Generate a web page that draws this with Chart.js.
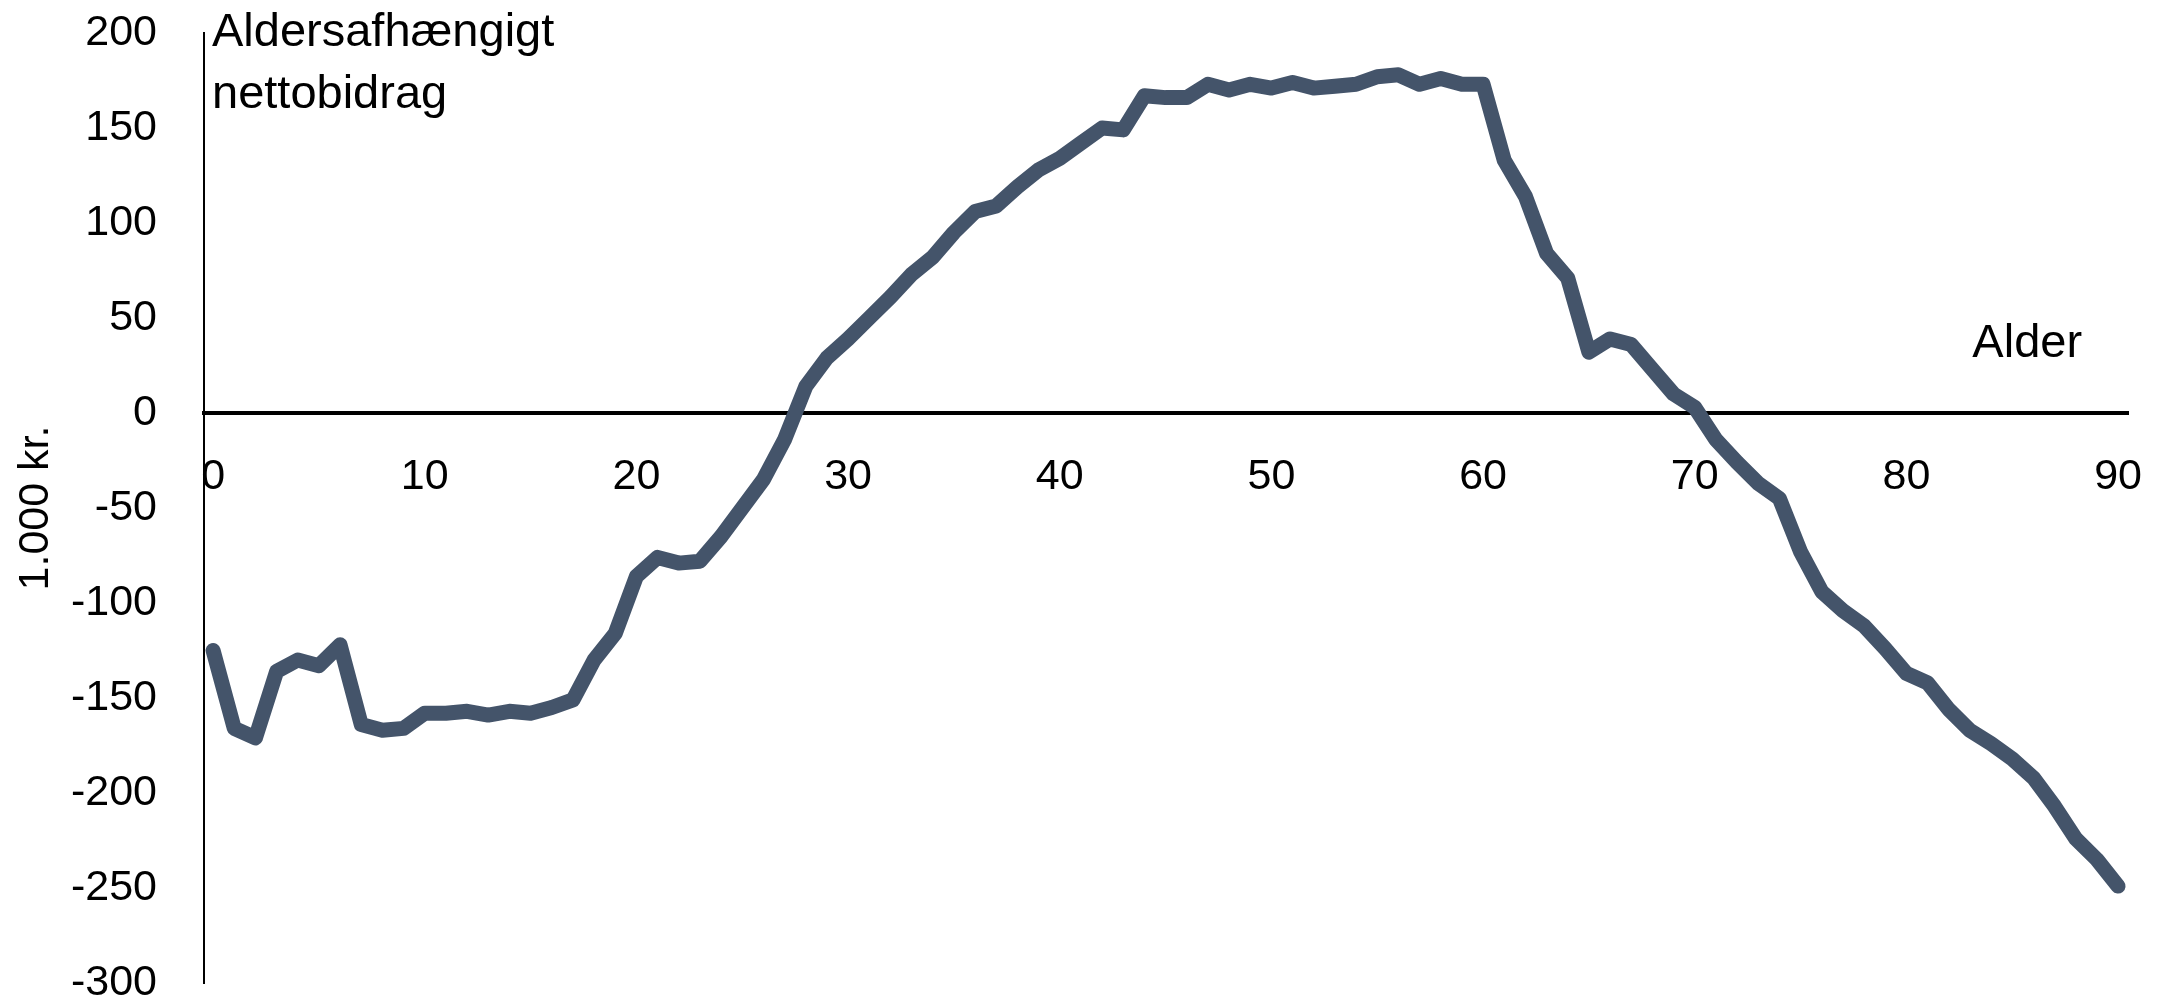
<!DOCTYPE html>
<html>
<head>
<meta charset="utf-8">
<script src="https://cdn.jsdelivr.net/npm/chart.js@4/dist/chart.umd.min.js"></script>
<style>
  html, body { margin: 0; padding: 0; background: #fff; }
  #wrap { width: 2172px; height: 1002px; }
</style>
</head>
<body>
<div id="wrap"><canvas id="chart" width="2172" height="1002"></canvas></div>
<script>
// Aldersafhængigt nettobidrag, 1.000 kr. per alder 0-90
const ages = [
  0, 1, 2, 3, 4, 5, 6, 7, 8, 9,
  10, 11, 12, 13, 14, 15, 16, 17, 18, 19,
  20, 21, 22, 23, 24, 25, 26, 27, 28, 29,
  30, 31, 32, 33, 34, 35, 36, 37, 38, 39,
  40, 41, 42, 43, 44, 45, 46, 47, 48, 49,
  50, 51, 52, 53, 54, 55, 56, 57, 58, 59,
  60, 61, 62, 63, 64, 65, 66, 67, 68, 69,
  70, 71, 72, 73, 74, 75, 76, 77, 78, 79,
  80, 81, 82, 83, 84, 85, 86, 87, 88, 89,
  90
];
const netContribution = [
  -125, -166, -171, -136, -130, -133, -122, -164, -167, -166,
  -158, -158, -157, -159, -157, -158, -155, -151, -130, -116,
  -86, -76, -79, -78, -65, -50, -35, -14, 14, 29,
  39, 50, 61, 73, 82, 95, 106, 109, 119, 128,
  134, 142, 150, 149, 167, 166, 166, 173, 170, 173,
  171, 174, 171, 172, 173, 177, 178, 173, 176, 173,
  173, 133, 114, 84, 71, 32, 39, 36, 23, 10,
  3, -14, -26, -37, -45, -73, -94, -104, -112, -124,
  -137, -142, -156, -167, -174, -182, -192, -207, -224, -235,
  -249
];
const xTicks = [0, 10, 20, 30, 40, 50, 60, 70, 80, 90];
const yTitle = '1.000 kr.';
const seriesLabel = ['Aldersafhængigt', 'nettobidrag'];
const xLabel = 'Alder';

const fontFamily = "'Liberation Sans', Arial, sans-serif";
const lineColor = '#44546A';

// tekster inde i plotområdet
const labelsPlugin = {
  id: 'labels',
  afterDraw(chart) {
    const { ctx, chartArea, scales } = chart;
    ctx.save();
    ctx.fillStyle = '#000';
    ctx.font = '47px ' + fontFamily;
    ctx.textBaseline = 'alphabetic';
    ctx.textAlign = 'left';
    ctx.fillText(seriesLabel[0], chartArea.left + 8, chartArea.top + 13);
    ctx.fillText(seriesLabel[1], chartArea.left + 8, chartArea.top + 75);
    ctx.textAlign = 'right';
    ctx.fillText(xLabel, scales.x.getPixelForValue(88.3), scales.y.getPixelForValue(29.5));
    ctx.restore();
  }
};

new Chart(document.getElementById('chart'), {
  type: 'line',
  data: {
    datasets: [{
      data: ages.map((a, i) => ({ x: a, y: netContribution[i] })),
      borderColor: lineColor,
      borderWidth: 15,
      borderCapStyle: 'round',
      borderJoinStyle: 'round',
      pointRadius: 0,
      tension: 0,
      fill: false,
      clip: false
    }]
  },
  options: {
    responsive: false,
    animation: false,
    devicePixelRatio: 1,
    layout: { padding: { top: 33, bottom: 19, left: 0, right: 44 } },
    plugins: { legend: { display: false }, tooltip: { enabled: false } },
    scales: {
      x: {
        type: 'linear',
        position: { y: 0 },
        min: -0.43,
        max: 90.47,
        grid: { display: false, drawTicks: false },
        border: { display: true, color: '#000', width: 4 },
        afterBuildTicks: (scale) => { scale.ticks = xTicks.map(v => ({ value: v })); },
        afterFit: (scale) => { scale.paddingLeft = 0; scale.paddingRight = 0; },
        ticks: {
          padding: 38,
          color: '#000',
          font: { family: fontFamily, size: 43 },
          maxRotation: 0
        }
      },
      y: {
        min: -300,
        max: 200,
        grid: { display: false, drawTicks: false },
        border: { display: true, color: '#000', width: 2 },
        afterFit: (scale) => { scale.width = 204; scale.paddingTop = 0; scale.paddingBottom = 0; },
        ticks: {
          stepSize: 50,
          padding: 47,
          color: '#000',
          font: { family: fontFamily, size: 43 }
        },
        title: {
          display: true,
          text: yTitle,
          color: '#000',
          font: { family: fontFamily, size: 43 },
          padding: { top: 10, bottom: 0 }
        }
      }
    }
  },
  plugins: [labelsPlugin]
});
</script>
</body>
</html>
